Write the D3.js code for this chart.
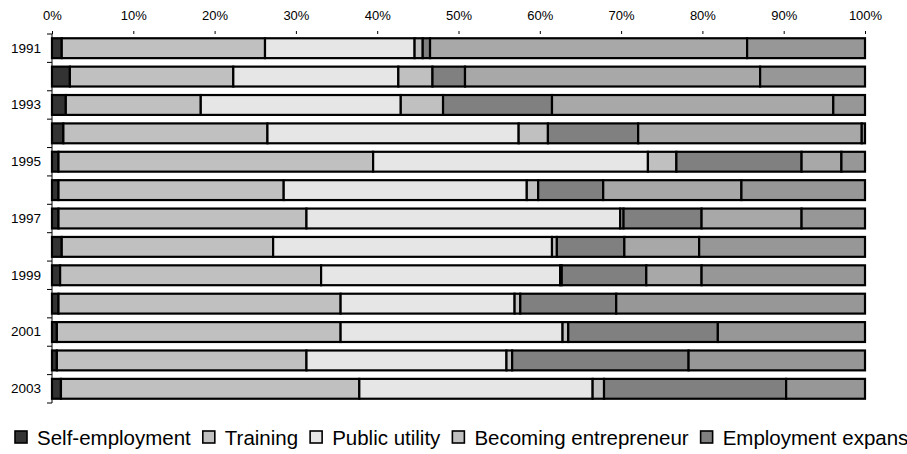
<!DOCTYPE html>
<html>
<head>
<meta charset="utf-8">
<script src="https://cdn.jsdelivr.net/npm/d3@7"></script>
<style>
  html, body { margin: 0; padding: 0; background: #fff; }
  svg { display: block; font-family: "Liberation Sans", Arial, sans-serif; }
</style>
</head>
<body>
<svg id="chart" width="907" height="454"></svg>
<script>
const years = ["1991","1992","1993","1994","1995","1996","1997","1998","1999","2000","2001","2002","2003"];
const seriesNames = ["Self-employment","Training","Public utility","Becoming entrepreneur","Employment expansion","Series 6","Series 7"];
const seriesColors = ["#333333","#c0c0c0","#e6e6e6","#c0c0c0","#808080","#a8a8a8","#979797"];
const selfEmployment   = [1.2, 2.2, 1.7, 1.4, 0.8, 0.8, 0.8, 1.2, 1.0, 0.8, 0.6, 0.6, 1.1];
const training         = [25.0, 20.1, 16.6, 25.1, 38.7, 27.7, 30.5, 26.0, 32.1, 34.7, 34.9, 30.7, 36.7];
const publicUtility    = [18.4, 20.3, 24.6, 30.9, 33.8, 29.9, 38.6, 34.3, 29.4, 21.4, 27.3, 24.6, 28.7];
const becomingEntrep   = [1.0, 4.2, 5.2, 3.6, 3.5, 1.4, 0.4, 0.6, 0.2, 0.7, 0.7, 0.7, 1.4];
const employmentExpan  = [0.9, 4.0, 13.4, 11.1, 15.4, 8.0, 9.6, 8.3, 10.4, 11.8, 18.4, 21.7, 22.4];
const series6          = [39.0, 36.3, 34.6, 27.5, 4.9, 17.0, 12.3, 9.2, 6.8, 0, 0, 0, 0];
const series7          = [14.5, 12.9, 3.9, 0.4, 2.9, 15.2, 7.8, 20.4, 20.1, 30.6, 18.1, 21.7, 9.7];
const xTicks = [0, 0.1, 0.2, 0.3, 0.4, 0.5, 0.6, 0.7, 0.8, 0.9, 1.0];

const seriesValues = [selfEmployment, training, publicUtility, becomingEntrep, employmentExpan, series6, series7];

const rows = years.map((y, i) => {
  const r = { year: y };
  seriesNames.forEach((s, k) => r[s] = seriesValues[k][i]);
  return r;
});

const svg = d3.select("#chart");
const x = d3.scaleLinear().domain([0, 1]).range([52, 865]);
const y = d3.scaleBand().domain(years).range([34, 403]).paddingInner(0.3).paddingOuter(0.15);

const stack = d3.stack().keys(seriesNames).offset(d3.stackOffsetExpand);
const stacked = stack(rows);

// bars
const g = svg.append("g");
stacked.forEach((layer, k) => {
  g.append("g")
    .attr("fill", seriesColors[k])
    .selectAll("rect")
    .data(layer.filter(d => d[1] - d[0] > 0))
    .join("rect")
    .attr("x", d => x(d[0]))
    .attr("y", d => y(d.data.year))
    .attr("width", d => x(d[1]) - x(d[0]))
    .attr("height", y.bandwidth())
    .attr("stroke", "#000")
    .attr("stroke-width", 2.2);
});

// top axis
const topAxis = svg.append("g")
  .attr("transform", "translate(0,34)")
  .call(d3.axisTop(x).tickValues(xTicks).tickFormat(d3.format(".0%")).tickSize(3).tickPadding(11));
topAxis.select(".domain").remove();
topAxis.selectAll("text").attr("font-size", 13).attr("fill", "#000").attr("font-family", "Liberation Sans, Arial, sans-serif");
topAxis.selectAll("line").attr("stroke", "#000");

// left axis
const leftAxis = svg.append("g")
  .attr("transform", "translate(52,0)")
  .call(d3.axisLeft(y).tickSize(0).tickPadding(11).tickFormat((d, i) => i % 2 === 0 ? d : ""));
leftAxis.select(".domain").attr("stroke", "#000").attr("d", `M0,34V403`);
leftAxis.selectAll("text").attr("font-size", 13.5).attr("fill", "#000").attr("font-family", "Liberation Sans, Arial, sans-serif");

// category boundary ticks
const step = y.step();
const bounds = years.map(d => y(d) - y.paddingInner() * step / 2).concat([y(years[years.length - 1]) + y.bandwidth() + y.paddingInner() * step / 2]);
svg.append("g").selectAll("line").data(bounds).join("line")
  .attr("x1", 47).attr("x2", 52)
  .attr("y1", d => d).attr("y2", d => d)
  .attr("stroke", "#000");

// legend
const legend = svg.append("g");
let lx = 15;
seriesNames.forEach((name, k) => {
  legend.append("rect")
    .attr("x", lx).attr("y", 431).attr("width", 12).attr("height", 12)
    .attr("fill", seriesColors[k]).attr("stroke", "#000").attr("stroke-width", 1.6);
  const t = legend.append("text")
    .attr("x", lx + 22).attr("y", 445)
    .attr("font-size", 20.5).attr("fill", "#000")
    .text(name);
  lx = lx + 22 + t.node().getComputedTextLength() + 12;
});
</script>
</body>
</html>
